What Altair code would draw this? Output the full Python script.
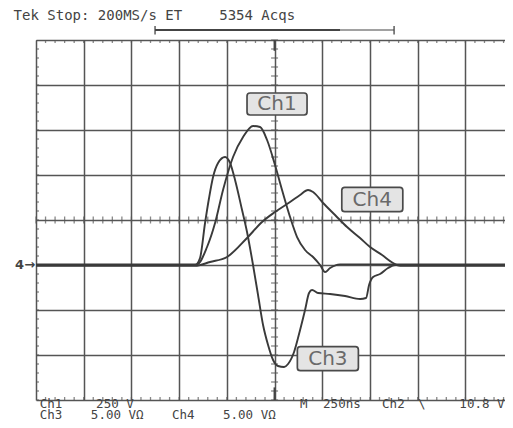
import altair as alt
import pandas as pd

# ---------------- data (screen divisions: x -5..5, y -4..4) ----------------
ch1_x = [-5.0, -1.625, -1.415, -1.247, -1.080, -0.870, -0.660, -0.451, -0.304, -0.157,
         0.010, 0.157, 0.325, 0.472, 0.639, 0.807, 0.954, 1.059, 1.164, 1.373, 5.0]
ch1_y = [-0.985, -0.985, -0.60, -0.067, 0.667, 1.40, 1.844, 2.089, 2.067, 1.778,
         1.222, 0.667, 0.067, -0.378, -0.667, -0.822, -1.0, -1.156, -1.067, -0.985, -0.985]

ch3_x = [-5.0, -1.667, -1.562, -1.457, -1.373, -1.289, -1.184, -1.038, -0.933, -0.828,
         -0.681, -0.577, -0.451, -0.346, -0.241, -0.136, -0.031, 0.073, 0.199, 0.283,
         0.409, 0.535, 0.639, 0.723, 0.786, 0.912, 1.164, 1.478, 1.792, 1.918, 1.981,
         2.065, 2.212, 2.379, 2.526, 5.0]
ch3_y = [-1.0, -1.0, -0.844, -0.067, 0.489, 0.956, 1.267, 1.40, 1.267, 0.889,
         0.222, -0.267, -1.0, -1.667, -2.333, -2.778, -3.111, -3.244, -3.267, -3.20,
         -2.933, -2.444, -2.0, -1.622, -1.556, -1.622, -1.644, -1.689, -1.756, -1.733, -1.444,
         -1.267, -1.20, -1.067, -1.0, -1.0]

ch4_x = [-5.0, -1.667, -1.352, -0.996, -0.577, -0.262, 0.010, 0.325, 0.535, 0.702,
         0.807, 1.017, 1.268, 1.520, 1.792, 2.002, 2.254, 2.484, 2.631, 5.0]
ch4_y = [-1.02, -1.02, -0.933, -0.822, -0.40, -0.044, 0.178, 0.40, 0.556, 0.667,
         0.622, 0.378, 0.111, -0.156, -0.40, -0.60, -0.778, -0.956, -1.02, -1.02]

X_RIGHT = 4.83   # the screen is cut off just before the right border
x_major = [-5, -4, -3, -2, -1, 0, 1, 2, 3, 4]
y_major = [-4, -3, -2, -1, 0, 1, 2, 3, 4]
x_minor = [round(-5 + 0.2 * i, 2) for i in range(50)]
y_minor = [round(-4 + 0.2 * i, 2) for i in range(41)]

label_names = ["Ch1", "Ch4", "Ch3"]
label_x = [-0.577, 1.409, 0.478]
label_x2 = [0.681, 2.688, 1.757]
label_y = [2.822, 0.727, -2.815]
label_y2 = [2.333, 0.184, -3.348]

top_text = ["Tek Stop: 200MS/s ET", "5354 Acqs"]
top_x = [-5.47, -1.16]
top_y = [4.54, 4.54]

bottom_text = ["Ch1", "250 V", "M", "250ns", "Ch2", "\\",
               "Ch3", "5.00 V\u03a9", "Ch4", "5.00 V\u03a9"]
bottom_x = [-4.92, -3.74, 0.535, 1.017, 2.254, 3.008,
            -4.92, -3.85, -2.149, -1.08]
bottom_y = [-4.09, -4.09, -4.09, -4.09, -4.09, -4.09,
            -4.325, -4.325, -4.325, -4.325]
right_text = ["10.8 V"]
right_x = [4.82]
right_y = [-4.09]

# ---------------- tables ----------------
rows = []
for name, xs_, ys_ in [("Ch1", ch1_x, ch1_y), ("Ch3", ch3_x, ch3_y), ("Ch4", ch4_x, ch4_y)]:
    for i, (a, b) in enumerate(zip(xs_, ys_)):
        rows.append({"ch": name, "i": i, "x": a, "y": b})
traces = pd.DataFrame(rows)

xs = alt.Scale(domain=[-5, X_RIGHT], nice=False, zero=False)
ys = alt.Scale(domain=[-4, 4], nice=False, zero=False)
INK = "#444444"
GRID = "#555555"
FONT = "DejaVu Sans Mono"

grid_base = alt.Chart(pd.DataFrame({"x": [0]})).mark_point(opacity=0).encode(
    x=alt.X("x:Q", scale=xs, axis=alt.Axis(values=x_major, grid=True, labels=False, ticks=False,
                                             domain=False, title=None, gridColor=GRID, gridWidth=1.5)),
    y=alt.Y("x:Q", scale=ys, axis=alt.Axis(values=y_major, grid=True, labels=False, ticks=False,
                                             domain=False, title=None, gridColor=GRID, gridWidth=1.5)),
)

# minor ticks on the center lines
cx = pd.DataFrame({"x": x_minor, "y": [0] * len(x_minor)})
cy = pd.DataFrame({"y": y_minor, "x": [0] * len(y_minor)})
tick_cx = alt.Chart(cx).mark_tick(orient="vertical", size=7, thickness=1.3, color=GRID).encode(
    x=alt.X("x:Q", scale=xs), y=alt.Y("y:Q", scale=ys))
tick_cy = alt.Chart(cy).mark_tick(orient="horizontal", size=7, thickness=1.3, color=GRID).encode(
    x=alt.X("x:Q", scale=xs), y=alt.Y("y:Q", scale=ys))

# border ticks (clipped so only the inner half shows)
bt = pd.DataFrame({"x": x_minor * 2, "y": [4] * len(x_minor) + [-4] * len(x_minor)})
bl = pd.DataFrame({"y": y_minor, "x": [-5] * len(y_minor)})
tick_bt = alt.Chart(bt).mark_tick(orient="vertical", size=6, thickness=1.3, color=GRID, clip=True).encode(
    x=alt.X("x:Q", scale=xs), y=alt.Y("y:Q", scale=ys))
tick_bl = alt.Chart(bl).mark_tick(orient="horizontal", size=6, thickness=1.3, color=GRID, clip=True).encode(
    x=alt.X("x:Q", scale=xs), y=alt.Y("y:Q", scale=ys))

lines = alt.Chart(traces).mark_line(color="#3a3a3a", strokeWidth=1.9, interpolate="monotone", clip=True).encode(
    x=alt.X("x:Q", scale=xs), y=alt.Y("y:Q", scale=ys), detail="ch:N", order="i:Q")

labels = pd.DataFrame({"t": label_names, "x": label_x, "x2": label_x2, "y": label_y, "y2": label_y2})
boxes = alt.Chart(labels).mark_rect(fill="#e4e4e4", stroke="#4a4a4a", strokeWidth=1.7, cornerRadius=3).encode(
    x=alt.X("x:Q", scale=xs), x2="x2:Q", y=alt.Y("y:Q", scale=ys), y2="y2:Q")
labels["cx"] = (labels["x"] + labels["x2"]) / 2
labels["cy"] = (labels["y"] + labels["y2"]) / 2
box_text = alt.Chart(labels).mark_text(font="DejaVu Sans", fontSize=20, color="#6a6a6a", align="center",
                                       baseline="middle").encode(
    x=alt.X("cx:Q", scale=xs), y=alt.Y("cy:Q", scale=ys), text="t:N")

def text_layer(texts, xv, yv, size, align):
    df = pd.DataFrame({"t": texts, "x": xv, "y": yv})
    return alt.Chart(df).mark_text(font=FONT, fontSize=size, color=INK, align=align,
                                   baseline="middle", clip=False).encode(
        x=alt.X("x:Q", scale=xs), y=alt.Y("y:Q", scale=ys), text="t:N")

top_marks = text_layer(top_text, top_x, top_y, 14, "left")
bottom_marks = text_layer(bottom_text, bottom_x, bottom_y, 12.5, "left")
right_marks = text_layer(right_text, right_x, right_y, 12.5, "right")

# record-length bracket at the top
br = pd.DataFrame({"x": [-2.505, 1.373], "x2": [1.373, 2.505], "y": [4.222, 4.222], "w": [2.2, 1.2]})
bracket = alt.Chart(br).mark_rule(color=INK, clip=False).encode(
    x=alt.X("x:Q", scale=xs), x2="x2:Q", y=alt.Y("y:Q", scale=ys),
    strokeWidth=alt.StrokeWidth("w:Q", scale=None, legend=None))
caps = pd.DataFrame({"x": [-2.505, 2.505], "y": [4.31, 4.31], "y2": [4.12, 4.12]})
bracket_caps = alt.Chart(caps).mark_rule(color=INK, strokeWidth=1.3, clip=False).encode(
    x=alt.X("x:Q", scale=xs), y=alt.Y("y:Q", scale=ys), y2="y2:Q")

# trigger markers on center line top & bottom
trig = pd.DataFrame({"x": [0, 0], "y": [4.0, -4.0], "y2": [3.76, -3.72]})
trig_marks = alt.Chart(trig).mark_rule(color=INK, strokeWidth=2).encode(
    x=alt.X("x:Q", scale=xs), y=alt.Y("y:Q", scale=ys), y2="y2:Q")

# channel ground marker on the left
gm = pd.DataFrame({"t": ["4\u2192"], "x": [-5.02], "y": [-1.0]})
gmark = alt.Chart(gm).mark_text(font="DejaVu Sans", fontSize=13, fontWeight="bold", color=INK, align="right",
                                baseline="middle", clip=False).encode(
    x=alt.X("x:Q", scale=xs), y=alt.Y("y:Q", scale=ys), text="t:N")

chart = alt.layer(
    grid_base, tick_cx, tick_cy, tick_bt, tick_bl, lines, boxes, box_text,
    top_marks, bottom_marks, right_marks, bracket, bracket_caps, trig_marks, gmark
).properties(
    width=469, height=360,
    autosize=alt.AutoSizeParams(type="none"),
    padding={"left": 28, "top": 32, "right": 0, "bottom": 20},
    background="white",
).configure_view(stroke=None)

chart.save("out.html", embed_options={"renderer": "svg", "actions": False})
